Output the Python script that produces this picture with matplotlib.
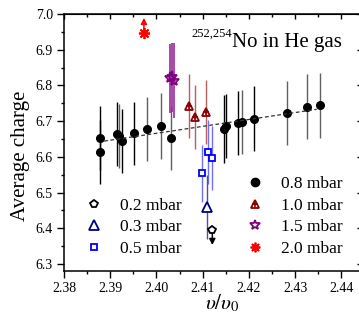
import matplotlib
matplotlib.use("Agg")
import matplotlib.pyplot as plt
from matplotlib.lines import Line2D
from matplotlib.ticker import MultipleLocator

plt.rcParams["font.family"] = ["Liberation Serif", "DejaVu Serif"]
plt.rcParams["mathtext.fontset"] = "stix"

# 0.8 mbar series (black dots) and its linear fit
p08_x = [2.3878, 2.3878, 2.3914, 2.3920, 2.3925, 2.3952, 2.3979, 2.4011, 2.4032,
         2.4147, 2.4150, 2.4177, 2.4185, 2.4211, 2.4282, 2.4327, 2.4354]
p08_y = [6.652, 6.614, 6.664, 6.659, 6.644, 6.666, 6.677, 6.686, 6.652,
         6.678, 6.686, 6.694, 6.697, 6.707, 6.723, 6.740, 6.744]
p08_err = [0.09, 0.09, 0.09, 0.09, 0.09, 0.088, 0.09, 0.092, 0.09,
           0.096, 0.09, 0.09, 0.09, 0.09, 0.09, 0.091, 0.091]
fit_x = [2.3887, 2.4347]
fit_y = [6.644, 6.733]

p10_x = [2.4071, 2.4084, 2.4107]
p10_y = [6.742, 6.711, 6.726]
p10_err = [0.09, 0.09, 0.09]

p15_x = [2.4029, 2.4034, 2.4039]
p15_y = [6.820, 6.823, 6.813]
p15_err = [0.097, 0.097, 0.105]

p05_x = [2.4098, 2.4111, 2.4120]
p05_y = [6.554, 6.614, 6.596]
p05_err = [0.08, 0.09, 0.09]

p03_x = [2.4110]
p03_y = [6.460]
p03_err = [0.09]

# lower / upper limits drawn as arrows
p02_x = [2.4121]
p02_y = [6.395]
p02_arrow_to = [6.353]

p20_x = [2.3973]
p20_y = [6.946]
p20_arrow_to = [6.989]

W, H = 359, 320
fig = plt.figure(figsize=(W / 100, H / 100), dpi=100)
ax = fig.add_axes([64 / W, (H - 270.7) / H, 298 / W, 256.7 / H])
ax.set_xlim(2.38, 2.4445)
ax.set_ylim(6.281, 7.0)

ebkw = dict(linestyle="none", capsize=0)

# 0.8 mbar: bars alternate black / grey
grey = {3, 6, 7, 8, 12, 14, 15, 16}
for i, (x, y, e) in enumerate(zip(p08_x, p08_y, p08_err)):
    ax.errorbar([x], [y], yerr=[e], ecolor="#606060" if i in grey else "black",
                elinewidth=1.0, marker="o", ms=5.5, mfc="black", mec="black",
                zorder=3, **ebkw)
ax.plot(fit_x, fit_y, color="#333333", lw=0.9, ls=(0, (3, 2)), zorder=4)

tri_red = "#8b0000"
ax.errorbar(p10_x, p10_y, yerr=p10_err, ecolor="#b86060", elinewidth=1.0,
            marker="^", ms=6, mfc="none", mec=tri_red, mew=1.3, zorder=3, **ebkw)
ax.plot(p10_x, p10_y, ls="none", marker="+", ms=5, mec=tri_red, mew=1.2, zorder=3)

ax.errorbar(p15_x, p15_y, yerr=p15_err, ecolor="#9a2a9a", elinewidth=1.2,
            marker="*", ms=8, mfc="none", mec="#800080", mew=1.3, zorder=3, **ebkw)

ax.errorbar(p05_x, p05_y, yerr=p05_err, ecolor="#7070ff", elinewidth=1.0,
            marker="s", ms=5, mfc="white", mec="#0000ff", mew=1.3, zorder=3, **ebkw)

ax.errorbar(p03_x, p03_y, yerr=p03_err, ecolor="#5050a0", elinewidth=1.0,
            marker="^", ms=6.5, mfc="white", mec="#000080", mew=1.3, zorder=3, **ebkw)

for x, y, t in zip(p02_x, p02_y, p02_arrow_to):
    ax.annotate("", xy=(x, t), xytext=(x, y),
                arrowprops=dict(arrowstyle="-|>,head_length=0.35,head_width=0.18",
                                color="black", lw=1.1, shrinkA=0, shrinkB=0))
ax.plot(p02_x, p02_y, ls="none", marker="p", ms=6, mfc="white", mec="black",
        mew=1.3, zorder=4)

for x, y, t in zip(p20_x, p20_y, p20_arrow_to):
    ax.annotate("", xy=(x, t), xytext=(x, y),
                arrowprops=dict(arrowstyle="-|>,head_length=0.35,head_width=0.18",
                                color="red", lw=1.1, shrinkA=0, shrinkB=0))
ax.plot(p20_x, p20_y, ls="none", marker=(8, 2, 0), ms=8, mec="red", mew=1.3, zorder=4)

# axes styling: ticks out on bottom/left, in on top/right
for s in ax.spines.values():
    s.set_linewidth(1.1)
ax.xaxis.set_major_locator(MultipleLocator(0.01))
ax.xaxis.set_minor_locator(MultipleLocator(0.005))
ax.yaxis.set_major_locator(MultipleLocator(0.1))
ax.yaxis.set_minor_locator(MultipleLocator(0.05))
ax.xaxis.set_major_formatter(lambda v, p: f"{v:.2f}")
ax.yaxis.set_major_formatter(lambda v, p: f"{v:.1f}")
ax.tick_params(which="both", direction="out", width=1.0, labelsize=10, pad=3)
ax.tick_params(which="major", length=5)
ax.tick_params(which="minor", length=2.5)

top = ax.secondary_xaxis("top")
top.xaxis.set_major_locator(MultipleLocator(0.01))
top.xaxis.set_minor_locator(MultipleLocator(0.005))
top.tick_params(which="both", direction="in", labeltop=False, width=1.0)
top.tick_params(which="major", length=3.5)
top.tick_params(which="minor", length=2)
right = ax.secondary_yaxis("right")
right.yaxis.set_major_locator(MultipleLocator(0.1))
right.yaxis.set_minor_locator(MultipleLocator(0.05))
right.tick_params(which="both", direction="in", labelright=False, width=1.0)
right.tick_params(which="major", length=3.5)
right.tick_params(which="minor", length=2)

ax.set_ylabel("Average charge", fontsize=15)
ax.yaxis.set_label_coords(-0.115, 0.447)
ax.set_xlabel(r"$\upsilon/\upsilon_0$", fontsize=15)
ax.xaxis.set_label_coords(0.53, -0.085)

ax.text(0.564, 0.912, "252,254", transform=ax.transAxes, fontsize=9,
        ha="right", va="baseline")
ax.text(0.564, 0.871, "No in He gas", transform=ax.transAxes, fontsize=15,
        ha="left", va="baseline")

# legends
def handle(**kw):
    return Line2D([], [], ls="none", **kw)

left_h = [handle(marker="p", ms=6, mfc="white", mec="black", mew=1.3),
          handle(marker="^", ms=6.5, mfc="white", mec="#000080", mew=1.3),
          handle(marker="s", ms=5, mfc="white", mec="#0000ff", mew=1.3)]
left_l = ["0.2 mbar", "0.3 mbar", "0.5 mbar"]
right_h = [handle(marker="o", ms=6, mfc="black", mec="black"),
           (handle(marker="^", ms=6, mfc="none", mec=tri_red, mew=1.3),
            handle(marker="+", ms=5, mec=tri_red, mew=1.2)),
           handle(marker="*", ms=7, mfc="none", mec="#800080", mew=1.3),
           handle(marker=(8, 2, 0), ms=7, mec="red", mew=1.3)]
right_l = ["0.8 mbar", "1.0 mbar", "1.5 mbar", "2.0 mbar"]

lkw = dict(frameon=False, fontsize=12.5, handlelength=1.0, handletextpad=1.0,
           labelspacing=0.3, borderpad=0, borderaxespad=0, loc="lower left")
leg1 = ax.legend(left_h, left_l, bbox_to_anchor=(0.0715, 0.055), **lkw)
ax.add_artist(leg1)
ax.legend(right_h, right_l, bbox_to_anchor=(0.612, 0.055), **lkw)

fig.savefig("out.png", dpi=100)
